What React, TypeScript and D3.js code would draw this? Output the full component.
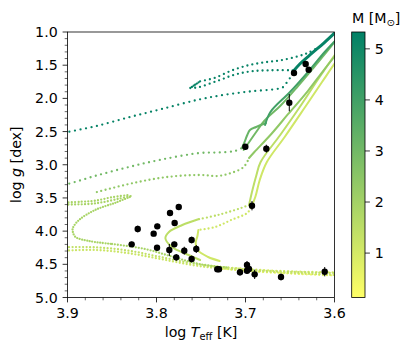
import React from 'react';
import * as d3 from 'd3';

type P = [number, number];

// observed stars: log Teff, log g, error on log g
const starTeff = [3.6455, 3.6324, 3.629, 3.6508, 3.7002, 3.6766, 3.6927, 3.7317, 3.7298, 3.7062,
  3.6983, 3.6983, 3.6961, 3.6897, 3.6601, 3.611, 3.8279, 3.8211, 3.8032, 3.7991, 3.7994, 3.7848,
  3.775, 3.7796, 3.7856, 3.78, 3.7778, 3.7688, 3.7605, 3.7605, 3.7553];
const starLogg = [1.618, 1.482, 1.568, 2.065, 2.728, 2.758, 3.617, 4.575, 4.575, 4.62,
  4.51, 4.596, 4.571, 4.651, 4.691, 4.611, 4.199, 3.968, 4.038, 3.928, 4.25, 3.727,
  3.637, 3.878, 4.284, 4.199, 4.395, 4.295, 4.134, 4.42, 4.269];
const starLoggErr = [0.04, 0.04, 0.04, 0.13, 0.04, 0.06, 0.07, 0.03, 0.03, 0.05,
  0.06, 0.04, 0.04, 0.07, 0.05, 0.07, 0.04, 0.05, 0.04, 0.04, 0.04, 0.04,
  0.04, 0.04, 0.09, 0.04, 0.05, 0.06, 0.05, 0.05, 0.06];

// evolutionary tracks, pieces of (log Teff, log g)
const m52Gap: P[] = [[3.91, 2.535], [3.9, 2.507], [3.869, 2.421], [3.831, 2.285], [3.794, 2.16], [3.753, 2.02],
  [3.723, 1.945], [3.693, 1.893], [3.665, 1.859], [3.658, 1.833], [3.654, 1.768], [3.65, 1.693], [3.647, 1.633]];
const m52Rgb: P[] = [[3.647, 1.603], [3.639, 1.482], [3.625, 1.316], [3.612, 1.166], [3.594, 0.94]];
const m52LoopOut: P[] = [[3.647, 1.577], [3.671, 1.577], [3.693, 1.592], [3.712, 1.643], [3.731, 1.734],
  [3.753, 1.833], [3.762, 1.844]];
const m52LoopTip: P[] = [[3.762, 1.844], [3.757, 1.798], [3.751, 1.743]];
const m52LoopBack: P[] = [[3.751, 1.743], [3.735, 1.693], [3.716, 1.583], [3.697, 1.502], [3.678, 1.456],
  [3.66, 1.426], [3.641, 1.366], [3.63, 1.316], [3.619, 1.241]];
const m40Rgb: P[] = [[3.678, 2.4], [3.672, 2.205], [3.65, 1.904], [3.628, 1.573], [3.611, 1.301], [3.594, 1.06]];
const m30Gap: P[] = [[3.91, 3.31], [3.9, 3.29], [3.869, 3.169], [3.831, 3.034], [3.794, 2.921], [3.751, 2.823],
  [3.729, 2.815], [3.712, 2.793], [3.704, 2.748]];
const m30Hook: P[] = [[3.704, 2.748], [3.701, 2.657], [3.698, 2.552], [3.695, 2.476], [3.688, 2.431], [3.677, 2.371]];
const m30Rgb: P[] = [[3.702, 2.778], [3.688, 2.507], [3.679, 2.341], [3.66, 2.1], [3.641, 1.814], [3.622, 1.512],
  [3.607, 1.271], [3.594, 1.045]];
const m24Gap: P[] = [[3.867, 3.411], [3.826, 3.275], [3.788, 3.185], [3.751, 3.154], [3.731, 3.169],
  [3.716, 3.124], [3.702, 3.034], [3.696, 2.898]];
const m24Rgb: P[] = [[3.696, 2.898], [3.69, 2.808], [3.671, 2.537], [3.652, 2.235], [3.63, 1.889],
  [3.612, 1.573], [3.594, 1.271]];
const m19WedgeA: P[] = [[3.91, 3.575], [3.884, 3.557], [3.869, 3.542], [3.85, 3.49], [3.831, 3.456]];
const m19WedgeB: P[] = [[3.91, 3.6], [3.876, 3.591], [3.861, 3.566], [3.842, 3.511], [3.829, 3.471]];
const m19Pms: P[] = [[3.83, 3.486], [3.846, 3.572], [3.869, 3.682], [3.887, 3.832], [3.894, 3.953],
  [3.894, 4.013], [3.891, 4.089], [3.876, 4.149], [3.85, 4.194]];
const m19Ms: P[] = [[3.85, 4.194], [3.813, 4.269], [3.783, 4.382], [3.752, 4.495], [3.72, 4.55]];
const m15Rgb: P[] = [[3.59, 1.18], [3.598, 1.316], [3.619, 1.723], [3.639, 2.13], [3.661, 2.552], [3.683, 2.959],
  [3.688, 3.169], [3.693, 3.426], [3.696, 3.606]];
const m15Sgb: P[] = [[3.696, 3.606], [3.705, 3.652], [3.731, 3.757], [3.753, 3.822]];
const m15Pms: P[] = [[3.753, 3.822], [3.771, 3.908], [3.786, 4.013], [3.79, 4.108], [3.783, 4.235],
  [3.764, 4.36], [3.751, 4.435]];
const m11Rgb: P[] = [[3.59, 1.3], [3.597, 1.422], [3.614, 1.753], [3.633, 2.13], [3.656, 2.582], [3.676, 2.959],
  [3.684, 3.23], [3.689, 3.486], [3.694, 3.652]];
const m11Sgb: P[] = [[3.694, 3.652], [3.698, 3.727], [3.716, 3.832], [3.734, 3.938], [3.753, 3.983]];
const m11Pms: P[] = [[3.753, 3.983], [3.754, 4.073], [3.756, 4.179], [3.754, 4.285], [3.742, 4.39], [3.729, 4.45]];
const m14Low: P[] = [[3.91, 4.244], [3.869, 4.244], [3.831, 4.295], [3.794, 4.394], [3.756, 4.495],
  [3.717, 4.555], [3.672, 4.601], [3.599, 4.631]];
const m12Low: P[] = [[3.91, 4.3], [3.869, 4.284], [3.831, 4.334], [3.794, 4.424], [3.753, 4.525],
  [3.706, 4.586], [3.65, 4.631], [3.599, 4.661]];
const m09Ms: P[] = [[3.746, 4.518], [3.706, 4.563], [3.661, 4.601], [3.599, 4.623]];
const m05Ms: P[] = [[3.734, 4.556], [3.689, 4.608], [3.639, 4.646], [3.599, 4.669]];

const xTicks = [3.9, 3.8, 3.7, 3.6];
const yTicks = [1.0, 1.5, 2.0, 2.5, 3.0, 3.5, 4.0, 4.5, 5.0];
const cbTicks = [1, 2, 3, 4, 5];
const massRange = [0.13, 5.33];

// gap: 0 = solid line, otherwise spacing of the dots
const pieces = [
  { pts: m05Ms, mass: 0.5, gap: 4 },
  { pts: m09Ms, mass: 0.9, gap: 4 },
  { pts: m12Low, mass: 1.2, gap: 3.5 },
  { pts: m14Low, mass: 1.4, gap: 3.5 },
  { pts: m11Rgb, mass: 1.1, gap: 0 },
  { pts: m11Sgb, mass: 1.1, gap: 4 },
  { pts: m11Pms, mass: 1.1, gap: 0 },
  { pts: m15Rgb, mass: 1.5, gap: 0 },
  { pts: m15Sgb, mass: 1.5, gap: 4 },
  { pts: m15Pms, mass: 1.5, gap: 0 },
  { pts: m19WedgeA, mass: 1.9, gap: 3.3 },
  { pts: m19WedgeB, mass: 1.9, gap: 3.3 },
  { pts: m19Pms, mass: 1.9, gap: 2.6 },
  { pts: m19Ms, mass: 1.9, gap: 3 },
  { pts: m24Gap, mass: 2.4, gap: 4.5 },
  { pts: m24Rgb, mass: 2.4, gap: 0 },
  { pts: m30Gap, mass: 3.0, gap: 5.5 },
  { pts: m30Rgb, mass: 3.0, gap: 0 },
  { pts: m30Hook, mass: 3.2, gap: 0 },
  { pts: m40Rgb, mass: 4.0, gap: 0 },
  { pts: m52Gap, mass: 5.2, gap: 5.6 },
  { pts: m52LoopOut, mass: 5.2, gap: 5 },
  { pts: m52LoopTip, mass: 5.2, gap: 2 },
  { pts: m52LoopBack, mass: 5.2, gap: 5 },
  { pts: m52Rgb, mass: 5.2, gap: 0, width: 3 },
];

const W = 415;
const H = 356;
const L = 67.5, R = 334.5, T = 32, B = 297.5;
const CB0 = 351.7, CB1 = 365;
const FONT = '"DejaVu Sans", sans-serif';
const FS = 14.2;

export default function App() {
  const x = d3.scaleLinear().domain([3.9, 3.6]).range([L, R]);
  const y = d3.scaleLinear().domain([1, 5]).range([T, B]);
  const cb = d3.scaleLinear().domain(massRange).range([B, T]);
  const color = d3.scaleLinear<string>().domain(massRange).range(['#ffff66', '#008066']).interpolate(d3.interpolateRgb);
  const line = d3.line<P>().x(d => x(d[0])).y(d => y(d[1])).curve(d3.curveCatmullRom.alpha(0.5));

  const xMinor = d3.range(3.6, 3.9001, 0.02).filter(v => !xTicks.some(t => Math.abs(t - v) < 1e-6));
  const yMinor = d3.range(1, 5.0001, 0.1).filter(v => !yTicks.some(t => Math.abs(t - v) < 1e-6));

  return (
    <svg width={W} height={H} style={{ position: 'absolute', left: 0, top: 0, background: '#fff' }}
      fontFamily={FONT} fontSize={FS}>
      <defs>
        <clipPath id="plot"><rect x={L} y={T} width={R - L} height={B - T} /></clipPath>
        <linearGradient id="cbar" x1="0" y1="1" x2="0" y2="0">
          <stop offset="0" stopColor={color(massRange[0])} />
          <stop offset="1" stopColor={color(massRange[1])} />
        </linearGradient>
      </defs>

      <g clipPath="url(#plot)">
        {pieces.map((p, i) => (
          <path key={i} d={line(p.pts) || ''} fill="none" stroke={color(p.mass)}
            strokeWidth={p.width || (p.gap ? 2.3 : 2)} strokeLinecap="round"
            strokeDasharray={p.gap ? `0 ${p.gap}` : undefined} />
        ))}
        {starTeff.map((t, i) => (
          <g key={i}>
            <line x1={x(t)} x2={x(t)} y1={y(starLogg[i] - starLoggErr[i])} y2={y(starLogg[i] + starLoggErr[i])}
              stroke="#000" strokeWidth={1} />
            <circle cx={x(t)} cy={y(starLogg[i])} r={3.2} fill="#000" />
          </g>
        ))}
      </g>

      <rect x={L} y={T} width={R - L} height={B - T} fill="none" stroke="#000" strokeWidth={0.8} />

      {xTicks.map(t => (
        <g key={t}>
          <line x1={x(t)} x2={x(t)} y1={B} y2={B + 4.9} stroke="#000" strokeWidth={0.8} />
          <text x={x(t)} y={B + 20.5} textAnchor="middle">{t.toFixed(1)}</text>
        </g>
      ))}
      {xMinor.map(t => (
        <line key={t} x1={x(t)} x2={x(t)} y1={B} y2={B + 2.8} stroke="#000" strokeWidth={0.6} />
      ))}
      {yTicks.map(t => (
        <g key={t}>
          <line x1={L - 4.9} x2={L} y1={y(t)} y2={y(t)} stroke="#000" strokeWidth={0.8} />
          <text x={L - 9.8} y={y(t)} dy="0.36em" textAnchor="end">{t.toFixed(1)}</text>
        </g>
      ))}
      {yMinor.map(t => (
        <line key={t} x1={L - 2.8} x2={L} y1={y(t)} y2={y(t)} stroke="#000" strokeWidth={0.6} />
      ))}

      <text x={(L + R) / 2} y={337} textAnchor="middle">
        log <tspan fontStyle="italic">T</tspan><tspan fontSize={9.9} dy={3}>eff</tspan><tspan dy={-3}> [K]</tspan>
      </text>
      <text transform={`translate(21,${(T + B) / 2}) rotate(-90)`} textAnchor="middle">
        log <tspan fontStyle="italic">g</tspan> [dex]
      </text>

      <rect x={CB0} y={T} width={CB1 - CB0} height={B - T} fill="url(#cbar)" stroke="#000" strokeWidth={0.8} />
      {cbTicks.map(t => (
        <g key={t}>
          <line x1={CB1} x2={CB1 + 4.9} y1={cb(t)} y2={cb(t)} stroke="#000" strokeWidth={0.8} />
          <text x={CB1 + 9.8} y={cb(t)} dy="0.36em">{t}</text>
        </g>
      ))}
      <text x={352} y={23}>
        M [M<tspan fontSize={9.9} dy={3}>⊙</tspan><tspan dy={-3}>]</tspan>
      </text>
    </svg>
  );
}
